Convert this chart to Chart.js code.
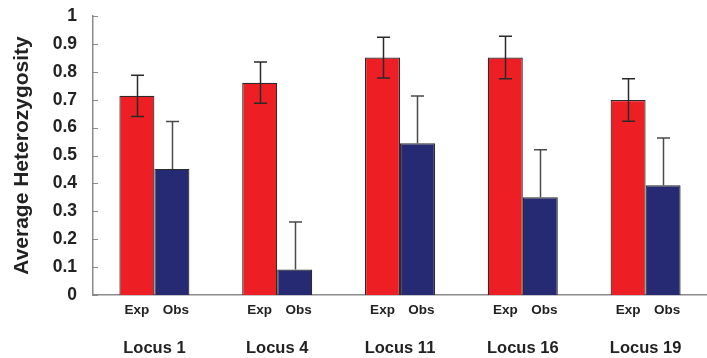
<!DOCTYPE html>
<html>
<head>
<meta charset="utf-8">
<script src="https://cdn.jsdelivr.net/npm/chart.js@4.4.1/dist/chart.umd.min.js"></script>
<style>
  html, body { margin: 0; padding: 0; background: #ffffff; }
  #wrap { width: 707px; height: 358px; position: relative; }
</style>
</head>
<body>
<div id="wrap"><canvas id="chart"></canvas></div>
<script>
// Heterozygosity per locus: expected vs observed, with standard errors
const loci = ['Locus 1', 'Locus 4', 'Locus 11', 'Locus 16', 'Locus 19'];
const seriesNames = ['Exp', 'Obs'];
const expected = [0.714, 0.761, 0.851, 0.851, 0.699];
const expectedErr = [0.074, 0.074, 0.073, 0.076, 0.076];
const observed = [0.452, 0.091, 0.544, 0.350, 0.393];
const observedErr = [0.170, 0.171, 0.169, 0.171, 0.170];
const yTicks = [0, 0.1, 0.2, 0.3, 0.4, 0.5, 0.6, 0.7, 0.8, 0.9, 1];

const FONT = '"Liberation Sans", Arial, Helvetica, sans-serif';

// Error bars: Exp gets a two-sided bar, Obs shows only the upper half
const errorBars = {
  id: 'errorBars',
  afterDatasetsDraw(chart) {
    const ctx = chart.ctx;
    const y = chart.scales.y;
    const specs = [
      { err: expectedErr, both: true, color: '#2a2a2a' },
      { err: observedErr, both: false, color: '#4a4a4a' }
    ];
    ctx.save();
    specs.forEach((spec, di) => {
      const meta = chart.getDatasetMeta(di);
      const values = chart.data.datasets[di].data;
      meta.data.forEach((bar, i) => {
        const v = values[i];
        const e = spec.err[i];
        const x = Math.round(bar.x) + 0.5;
        const yTop = y.getPixelForValue(v + e);
        const yBot = spec.both ? y.getPixelForValue(v - e) : y.getPixelForValue(v);
        const cap = 6.5;
        ctx.strokeStyle = spec.color;
        ctx.lineWidth = 1.5;
        ctx.beginPath();
        ctx.moveTo(x, yTop);
        ctx.lineTo(x, yBot);
        ctx.moveTo(x - cap, yTop);
        ctx.lineTo(x + cap, yTop);
        if (spec.both) {
          ctx.moveTo(x - cap, yBot);
          ctx.lineTo(x + cap, yBot);
        }
        ctx.stroke();
      });
    });
    ctx.restore();
  }
};

// Series names under each bar and inward tick marks on the value axis
const barLabels = {
  id: 'barLabels',
  afterDraw(chart) {
    const ctx = chart.ctx;
    const area = chart.chartArea;
    const y = chart.scales.y;
    ctx.save();
    ctx.fillStyle = '#222222';
    ctx.font = 'bold 13.5px ' + FONT;
    ctx.textAlign = 'center';
    ctx.textBaseline = 'middle';
    seriesNames.forEach((name, di) => {
      const meta = chart.getDatasetMeta(di);
      const shift = di === 1 ? 4 : 0;
      meta.data.forEach(bar => {
        ctx.fillText(name, bar.x + shift, area.bottom + 15);
      });
    });
    ctx.strokeStyle = '#8a8a8a';
    ctx.lineWidth = 1;
    yTicks.forEach(t => {
      const py = Math.round(y.getPixelForValue(t)) + 0.5;
      ctx.beginPath();
      ctx.moveTo(area.left, py);
      ctx.lineTo(area.left + 5, py);
      ctx.stroke();
    });
    ctx.restore();
  }
};

new Chart(document.getElementById('chart'), {
  type: 'bar',
  data: {
    labels: loci,
    datasets: [
      {
        label: seriesNames[0],
        data: expected,
        backgroundColor: '#ed1f24',
        borderColor: '#2b2b2b',
        borderWidth: 1.2,
        categoryPercentage: 0.57,
        barPercentage: 1.0
      },
      {
        label: seriesNames[1],
        data: observed,
        backgroundColor: '#262a72',
        borderColor: '#2b2b2b',
        borderWidth: 1.2,
        categoryPercentage: 0.57,
        barPercentage: 1.0
      }
    ]
  },
  options: {
    responsive: true,
    maintainAspectRatio: false,
    animation: false,
    devicePixelRatio: 1,
    layout: { padding: { top: 16, right: -3, bottom: 0, left: 0 } },
    plugins: {
      legend: { display: false },
      tooltip: { enabled: false }
    },
    scales: {
      x: {
        grid: { display: false, drawTicks: false },
        border: { display: true, color: '#8a8a8a', width: 1.5 },
        ticks: {
          color: '#222222',
          font: { family: FONT, size: 16.5, weight: 'bold' },
          padding: 44,
          maxRotation: 0
        },
        afterFit(scale) {
          scale.height = 63;
          scale.paddingLeft = 0;
          scale.paddingRight = 0;
        }
      },
      y: {
        min: 0,
        max: 1,
        afterBuildTicks(scale) {
          scale.ticks = yTicks.map(v => ({ value: v }));
        },
        grid: { display: false, drawTicks: false },
        border: { display: true, color: '#8a8a8a', width: 1.5 },
        ticks: {
          color: '#222222',
          font: { family: FONT, size: 17.5, weight: 'bold' },
          padding: 16,
          callback: v => String(Math.round(v * 10) / 10)
        },
        title: {
          display: true,
          text: 'Average Heterozygosity',
          color: '#222222',
          font: { family: FONT, size: 21, weight: 'bold' },
          padding: { top: 10, bottom: 0 }
        },
        afterFit(scale) {
          scale.width = 93;
          scale.paddingTop = 0;
          scale.paddingBottom = 0;
        }
      }
    }
  },
  plugins: [errorBars, barLabels]
});
</script>
</body>
</html>
